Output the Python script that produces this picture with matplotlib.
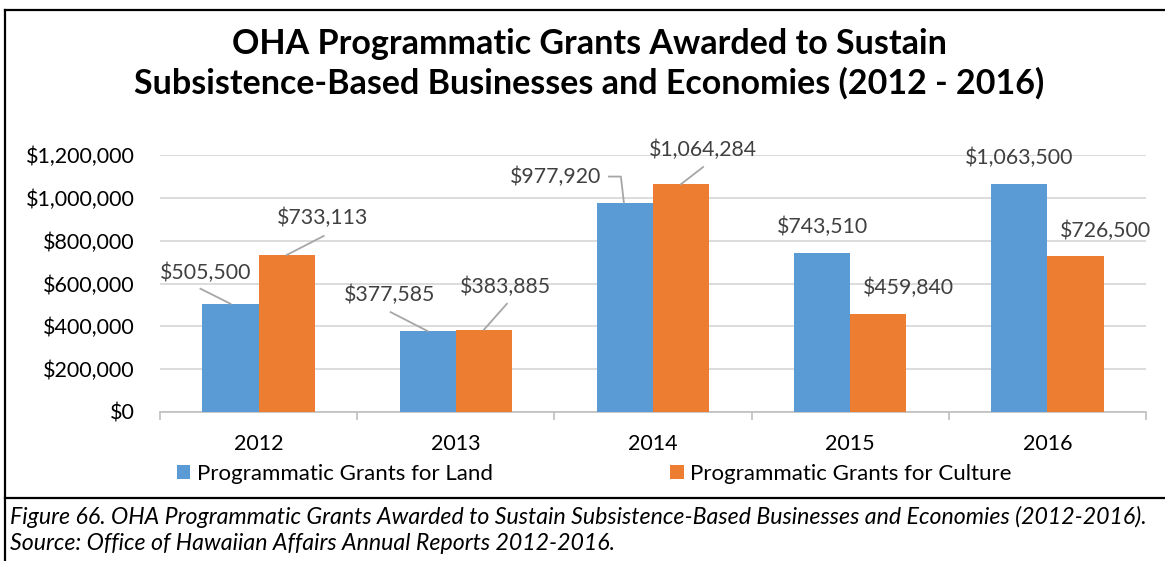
import matplotlib
matplotlib.use("Agg")
from matplotlib import pyplot as plt
import numpy as np

# Data
years = ["2012", "2013", "2014", "2015", "2016"]
land = [505500, 377585, 977920, 743510, 1063500]
culture = [733113, 383885, 1064284, 459840, 726500]

# label offsets from bar top (pixels), and leader line start (None = no leader)
land_label_off = [(-25, 31), (-38, 36), (-69, 26), (0, 26), (0, 26)]
culture_label_off = [(36, 37), (22, 43), (22, 34), (30, 26), (30, 26)]
land_leader = [[(-30, 15), (0, 0)], [(-37, 19), (0, 0)],
               [(-16, 26), (-4, 26), (-1, 0)], None, None]
culture_leader = [[(37, 19), (0, 0)], [(23, 26), (0, 0)],
                  [(22, 17), (0, 0)], None, None]

plt.rcParams['font.family'] = ['Lato', 'DejaVu Sans']

blue = '#5B9BD5'
orange = '#ED7D31'
grey_txt = '#404040'

fig = plt.figure(figsize=(11.65, 5.61), dpi=100)
ax = fig.add_axes([0.1373, 0.2656, 0.8464, 0.4581])

x = np.arange(len(years))
w = 0.285
b1 = ax.bar(x - w / 2, land, w, color=blue, label='Programmatic Grants for Land', zorder=3)
b2 = ax.bar(x + w / 2, culture, w, color=orange, label='Programmatic Grants for Culture', zorder=3)

ax.set_xlim(-0.5, 4.5)
ax.set_ylim(0, 1200000)
ax.set_yticks(np.arange(0, 1200001, 200000))
ax.set_yticklabels(['${:,.0f}'.format(v) for v in np.arange(0, 1200001, 200000)],
                   fontsize=15.5, color='#000000')
ax.set_xticks(x)
ax.set_xticklabels(years, fontsize=15.5)
ax.set_xticks(np.arange(-0.5, 5, 1), minor=True)
ax.tick_params(axis='x', which='major', length=0, pad=16)
ax.tick_params(axis='x', which='minor', length=6, color='#bfbfbf', width=1.2)
ax.tick_params(axis='y', length=0, pad=18)
ax.grid(axis='y', color='#d9d9d9', linewidth=1.3, zorder=0)
for s in ['top', 'right', 'left']:
    ax.spines[s].set_visible(False)
ax.spines['bottom'].set_color('#bfbfbf')
ax.spines['bottom'].set_linewidth(1.2)


def put_labels(xs, vals, offs, leaders):
    for xi, v, off, ld in zip(xs, vals, offs, leaders):
        ax.annotate('${:,.0f}'.format(v), xy=(xi, v), xytext=off,
                    textcoords='offset pixels', ha='center', va='center',
                    fontsize=15.3, color=grey_txt, annotation_clip=False)
        if ld is not None:
            base = ax.transData.transform((xi, v))
            pts = np.array([base + np.array(p) for p in ld])
            pts = ax.transData.inverted().transform(pts)
            ax.plot(pts[:, 0], pts[:, 1], color='#a6a6a6', linewidth=1.3,
                    zorder=4, clip_on=False)


put_labels(x - w / 2, land, land_label_off, land_leader)
put_labels(x + w / 2, culture, culture_label_off, culture_leader)

# Title
fig.text(0.506, 0.887, 'OHA Programmatic Grants Awarded to Sustain\n'
         'Subsistence-Based Businesses and Economies (2012 - 2016)',
         ha='center', va='center', fontsize=24.5, fontweight='bold',
         linespacing=1.27)

# Legend
fig.legend(handles=[b1, b2], loc='center', bbox_to_anchor=(0.51, 0.155),
           ncol=2, frameon=False, fontsize=16, handlelength=0.6,
           handleheight=0.6, handletextpad=0.3, columnspacing=8.0)

# frame lines
fig.add_artist(plt.Line2D([0.0043, 1], [0.982, 0.982], transform=fig.transFigure,
                          color='black', linewidth=1.6))
fig.add_artist(plt.Line2D([0.0043, 0.0043], [0, 0.982], transform=fig.transFigure,
                          color='black', linewidth=1.6))
fig.add_artist(plt.Line2D([0.0043, 1], [0.113, 0.113], transform=fig.transFigure,
                          color='black', linewidth=1.6))

# Caption
fig.text(0.009, 0.078, 'Figure 66. OHA Programmatic Grants Awarded to Sustain Subsistence-Based '
         'Businesses and Economies (2012-2016).', fontsize=16.7, style='italic', va='center')
fig.text(0.009, 0.031, 'Source: Office of Hawaiian Affairs Annual Reports 2012-2016.',
         fontsize=16.7, style='italic', va='center')

fig.savefig('out.png', dpi=100)
